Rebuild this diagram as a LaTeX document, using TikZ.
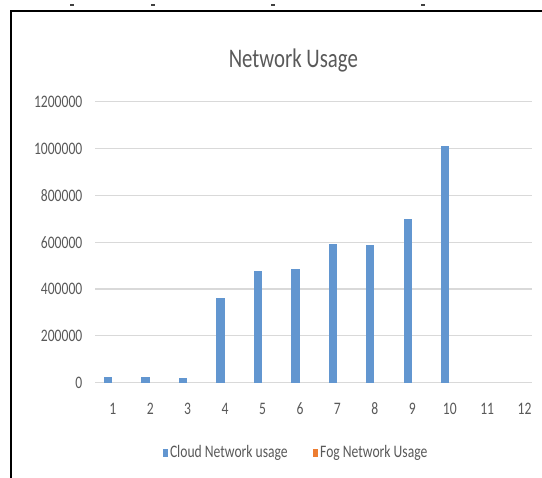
\documentclass[tikz,border=0pt]{standalone}
\usepackage{graphicx}
\usepackage{fontspec}
\setmainfont{Carlito}
\definecolor{cloudblue}{RGB}{98,150,208}
\definecolor{fogorange}{RGB}{237,125,49}
\definecolor{gridgray}{RGB}{217,217,217}
\definecolor{labelgray}{RGB}{89,89,89}
% letters in this chart are set taller than the font's own proportions
\newcommand\vstretch[1]{\scalebox{1}[1.29]{#1}}
\begin{document}
\begin{tikzpicture}[x=1pt,y=-1pt,
  ticklabel/.style={text=labelgray,font=\fontsize{13.6}{13.6}\selectfont,inner sep=0pt},
  titlelabel/.style={text=labelgray,font=\fontsize{20.8}{20.8}\selectfont,inner sep=0pt,anchor=base},
  legendlabel/.style={text=labelgray,font=\fontsize{13.6}{13.6}\selectfont,inner sep=0pt,anchor=base west},
  gridline/.style={draw=gridgray,line width=1.1pt},
  bar/.style={fill=cloudblue},
  frameline/.style={draw=black,line width=1.8pt}]
\useasboundingbox (0,0) rectangle (542,478);
\fill[white] (0,0) rectangle (542,478);

% remnants of the line of text above the frame
\foreach \px in {71.7,153,273,423}
  \fill[black!75] (\px-2,4.2) rectangle (\px+2,6.2);

% frame
\draw[frameline] (10.7,478) -- (10.7,11) -- (542,11);

% title
\node[titlelabel] (title) at (293.3,67.3) {\vstretch{Network Usage}};

% horizontal grid and value axis labels
\foreach \k/\lab in {0/0,1/200000,2/400000,3/600000,4/800000,5/1000000,6/1200000} {
  \draw[gridline] (95,{382.7-46.83*\k}) -- (532,{382.7-46.83*\k});
  \node[ticklabel,anchor=east] (ylab\k) at (82.5,{382.7-46.83*\k}) {\vstretch{\lab}};
}

% bars (values in thousands) and category labels
\foreach \n/\v in {1/24,2/24,3/22,4/360,5/478,6/484,7/592,8/588,9/699,10/1011} {
  \fill[bar] ({112.3+37.44*(\n-1)-8.3},382.7) rectangle ({112.3+37.44*(\n-1)},{382.7-\v*0.23415});
}
\foreach \n in {1,...,12}
  \node[ticklabel,anchor=base] (xlab\n) at ({112.8+37.44*(\n-1)},415) {\vstretch{\n}};

% legend
\fill[cloudblue] (162.8,449.3) rectangle (168.2,456.7);
\node[legendlabel] (leg1) at (169.8,457.3) {\vstretch{Cloud Network usage}};
\fill[fogorange] (312.8,449.3) rectangle (318.2,456.7);
\node[legendlabel] (leg2) at (320,457.3) {\vstretch{Fog Network Usage}};
\end{tikzpicture}
\end{document}
